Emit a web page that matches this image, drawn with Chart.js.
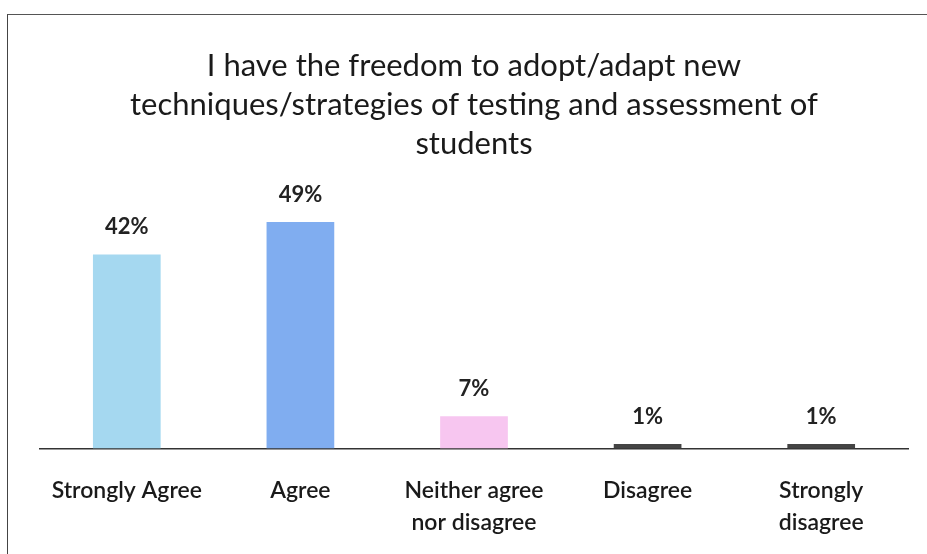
<!DOCTYPE html>
<html>
<head>
<meta charset="utf-8">
<script src="https://cdn.jsdelivr.net/npm/chart.js@4"></script>
<style>
  html, body { margin: 0; padding: 0; background: #fff; }
  #frame {
    position: absolute; left: 7px; top: 14px; width: 930px; height: 560px;
    border-left: 1.5px solid #444; border-top: 1.5px solid #555;
  }
  #wrap { position: absolute; left: 0; top: 0; width: 927px; height: 554px; }
</style>
</head>
<body>
<div id="frame"></div>
<div id="wrap"><canvas id="chart" width="927" height="554"></canvas></div>
<script>
// Survey categories and share of responses (%)
const categories = [
    'Strongly Agree',
    'Agree',
    ['Neither agree', 'nor disagree'],
    'Disagree',
    ['Strongly', 'disagree']
];
const responseShare = [42, 49, 7, 1, 1];
const barColors = ['#a5d8f0', '#80adf0', '#f7c6f0', '#444444', '#444444'];

const chartTitle = [
    'I have the freedom to adopt/adapt new',
    'techniques/strategies of testing and assessment of',
    'students'
];

// Draw the percentage above each bar
const valueLabels = {
    id: 'valueLabels',
    afterDatasetsDraw(chart) {
        const ctx = chart.ctx;
        const meta = chart.getDatasetMeta(0);
        ctx.save();
        ctx.font = 'bold 22px Lato';
        ctx.fillStyle = '#222';
        ctx.textAlign = 'center';
        ctx.textBaseline = 'bottom';
        meta.data.forEach((bar, i) => {
            ctx.fillText(responseShare[i] + '%', bar.x, bar.y - 16);
        });
        ctx.restore();
    }
};

const ctx = document.getElementById('chart').getContext('2d');
new Chart(ctx, {
    type: 'bar',
    data: {
        labels: categories,
        datasets: [{
            data: responseShare,
            backgroundColor: barColors,
            borderWidth: 0,
            barPercentage: 0.39,
            categoryPercentage: 1.0
        }]
    },
    options: {
        responsive: false,
        animation: false,
        layout: { padding: { left: 40, right: 19, top: 20, bottom: -3 } },
        plugins: {
            legend: { display: false },
            tooltip: { enabled: false },
            title: {
                display: true,
                text: chartTitle,
                color: '#1a1a1a',
                font: { family: 'Lato', size: 31, weight: 'normal', lineHeight: 1.27 },
                padding: { top: 26, bottom: 14 }
            }
        },
        scales: {
            y: {
                display: false,
                min: 0,
                max: 58.5
            },
            x: {
                grid: { display: false },
                border: { display: true, color: '#333', width: 1.5 },
                ticks: {
                    color: '#1a1a1a',
                    font: { family: 'Lato', size: 23, weight: '600', lineHeight: 1.4 },
                    padding: 18,
                    maxRotation: 0
                }
            }
        }
    },
    plugins: [valueLabels]
});
</script>
</body>
</html>
